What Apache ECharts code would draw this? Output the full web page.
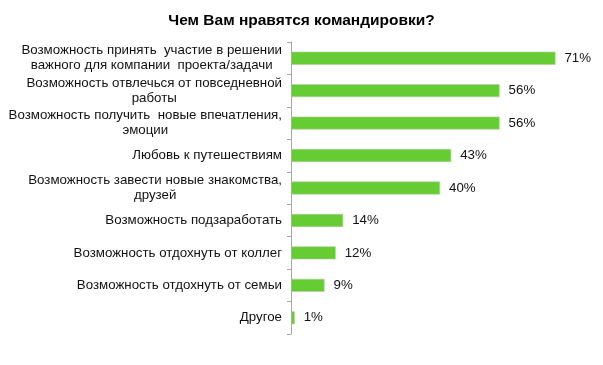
<!DOCTYPE html>
<html><head><meta charset="utf-8">
<script src="https://cdn.jsdelivr.net/npm/echarts@6/dist/echarts.min.js"></script>
<style>html,body{margin:0;padding:0;background:#fff}#c{width:603px;height:365px}</style>
</head><body><div id="c"></div>
<script>
var title = 'Чем Вам нравятся командировки?';
var categories = [
  'Возможность принять  участие в решении\nважного для компании  проекта/задачи',
  'Возможность отвлечься от повседневной\nработы',
  'Возможность получить  новые впечатления,\nэмоции',
  'Любовь к путешествиям',
  'Возможность завести новые знакомства,\nдрузей',
  'Возможность подзаработать',
  'Возможность отдохнуть от коллег',
  'Возможность отдохнуть от семьи',
  'Другое'
];
var values = [71, 56, 56, 43, 40, 14, 12, 9, 1];

var font = 'Liberation Sans, Arial';
var chart = echarts.init(document.getElementById('c'));
chart.setOption({
  animation: false,
  title: {text: title, left: 'center', top: 8, textStyle: {fontFamily: font, fontSize: 15.5, fontWeight: 'bold', color: '#000'}},
  grid: {left: 291, top: 42, width: 298, height: 292, containLabel: false},
  xAxis: {type: 'value', min: 0, max: 80, show: false},
  yAxis: {
    type: 'category', data: categories, inverse: true,
    axisLine: {show: true, lineStyle: {color: '#a6a6a6', width: 1}},
    axisTick: {show: true, length: 4, lineStyle: {color: '#a6a6a6'}},
    axisLabel: {
      margin: 9, align: 'right',
      formatter: function (v) { return v.split('\n').map(function (s) { return '{c|' + s + '}'; }).join('\n'); },
      rich: {c: {align: 'center', fontFamily: font, fontSize: 13.3, color: '#111', lineHeight: 15}}
    }
  },
  series: [{
    type: 'bar', data: values, barWidth: 13,
    itemStyle: {color: '#66cc33', borderColor: '#b8c8a8', borderWidth: 0.6},
    label: {show: true, position: 'right', distance: 9, formatter: '{c}%', fontFamily: font, fontSize: 13.3, color: '#111'}
  }]
});
</script></body></html>
